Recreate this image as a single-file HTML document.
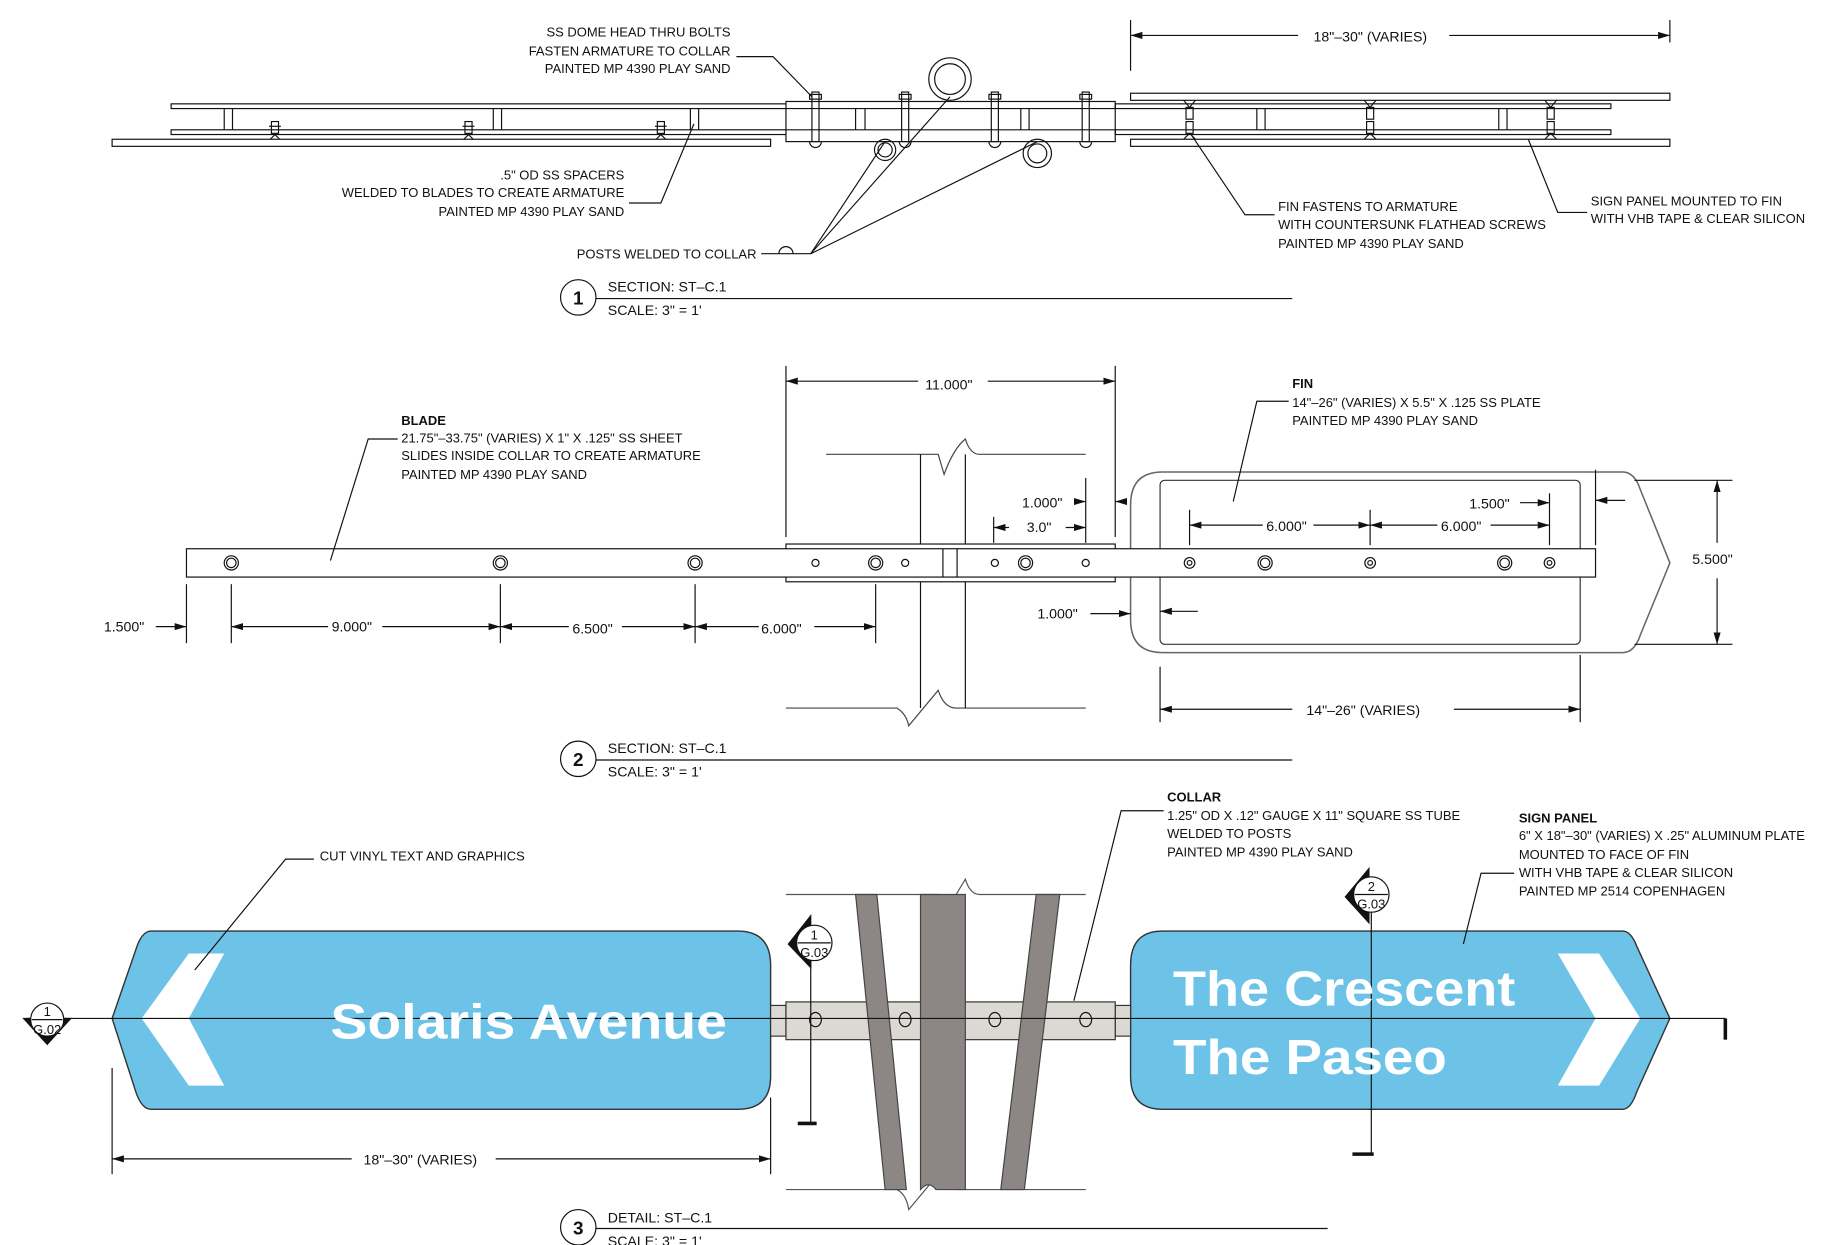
<!DOCTYPE html>
<html><head><meta charset="utf-8"><style>
html,body{margin:0;padding:0;background:#fff;}
svg{display:block;}
text{font-family:"Liberation Sans Narrow","Liberation Sans",sans-serif;font-size:11px;fill:#111;}
.b{font-weight:bold;}
.d{font-size:12px;}
.big{font-family:"Liberation Sans",sans-serif;font-weight:bold;fill:#fff;font-size:42px;}
.m{font-size:11px;}
.n{font-size:16px;font-weight:bold;}
</style></head><body>
<svg width="1841" height="1245" viewBox="0 0 1560 1055" preserveAspectRatio="none" xmlns="http://www.w3.org/2000/svg">
<defs>
<marker id="a" viewBox="0 0 10 6" refX="10" refY="3" markerWidth="10" markerHeight="6" orient="auto-start-reverse" markerUnits="userSpaceOnUse"><path d="M0,0 L10,3 L0,6 z" fill="#111"/></marker>
</defs>
<g stroke="#111" stroke-width="1" fill="none">
<!-- ===== SECTION 1 ===== -->
<rect x="95" y="118" width="558" height="6" fill="#fff"/>
<rect x="145" y="88" width="800" height="4"/>
<rect x="145" y="110" width="800" height="4"/>
<rect x="666" y="86" width="279" height="34" fill="#fff"/>
<line x1="666" y1="92" x2="945" y2="92"/><line x1="666" y1="110" x2="945" y2="110"/>
<rect x="958" y="79" width="457" height="6" fill="#fff"/>
<rect x="958" y="118" width="457" height="6" fill="#fff"/>
<rect x="945" y="88" width="420" height="4"/>
<rect x="945" y="110" width="420" height="4"/>
<g>
<line x1="190" y1="92" x2="190" y2="110"/><line x1="197" y1="92" x2="197" y2="110"/>
<line x1="418" y1="92" x2="418" y2="110"/><line x1="425" y1="92" x2="425" y2="110"/>
<line x1="585" y1="92" x2="585" y2="110"/><line x1="592" y1="92" x2="592" y2="110"/>
<line x1="725" y1="92" x2="725" y2="110"/><line x1="733" y1="92" x2="733" y2="110"/>
<line x1="865" y1="92" x2="865" y2="110"/><line x1="872" y1="92" x2="872" y2="110"/>
<line x1="1065" y1="92" x2="1065" y2="110"/><line x1="1072" y1="92" x2="1072" y2="110"/>
<line x1="1270" y1="92" x2="1270" y2="110"/><line x1="1277" y1="92" x2="1277" y2="110"/>
</g>
<g>
<rect x="688" y="78" width="6" height="42"/><rect x="686" y="80" width="10" height="4"/><path d="M686,120 a4,4 0 0 0 10,0"/>
<rect x="764" y="78" width="6" height="42"/><rect x="762" y="80" width="10" height="4"/><path d="M762,120 a4,4 0 0 0 10,0"/>
<rect x="840" y="78" width="6" height="42"/><rect x="838" y="80" width="10" height="4"/><path d="M838,120 a4,4 0 0 0 10,0"/>
<rect x="917" y="78" width="6" height="42"/><rect x="915" y="80" width="10" height="4"/><path d="M915,120 a4,4 0 0 0 10,0"/>
</g>
<g>
<rect x="230" y="103" width="6" height="10"/><line x1="228" y1="107" x2="238" y2="107"/><path d="M229,118 l4,-4 l4,4"/>
<rect x="394" y="103" width="6" height="10"/><line x1="392" y1="107" x2="402" y2="107"/><path d="M393,118 l4,-4 l4,4"/>
<rect x="557" y="103" width="6" height="10"/><line x1="555" y1="107" x2="565" y2="107"/><path d="M556,118 l4,-4 l4,4"/>
<rect x="1005" y="91" width="6" height="10"/><rect x="1005" y="103" width="6" height="10"/><path d="M1003,85 l5,6 l5,-6"/><path d="M1003,118 l5,-5 l5,5"/>
<rect x="1158" y="91" width="6" height="10"/><rect x="1158" y="103" width="6" height="10"/><path d="M1156,85 l5,6 l5,-6"/><path d="M1156,118 l5,-5 l5,5"/>
<rect x="1311" y="91" width="6" height="10"/><rect x="1311" y="103" width="6" height="10"/><path d="M1309,85 l5,6 l5,-6"/><path d="M1309,118 l5,-5 l5,5"/>
</g>
<circle cx="805" cy="67" r="18"/><circle cx="805" cy="67" r="13"/>
<circle cx="750" cy="127" r="9"/><circle cx="750" cy="127" r="6"/>
<circle cx="879" cy="130" r="12"/><circle cx="879" cy="130" r="8"/>
<polyline points="624,48 655,48 688,82"/>
<polyline points="533,172 560,172 588,105"/>
<polyline points="645,215 687,215 805,82"/>
<line x1="687" y1="215" x2="750" y2="120"/>
<line x1="687" y1="215" x2="879" y2="120"/>
<path d="M660,215 a6,6 0 0 1 12,0"/>
<polyline points="1080,182 1055,182 1010,115"/>
<polyline points="1345,180 1320,180 1295,118"/>
<line x1="958" y1="17" x2="958" y2="60"/><line x1="1415" y1="17" x2="1415" y2="36"/>
<line x1="958" y1="30" x2="1100" y2="30" marker-start="url(#a)"/>
<line x1="1228" y1="30" x2="1415" y2="30" marker-end="url(#a)"/>
<circle cx="490" cy="252" r="15"/>
<line x1="505" y1="253" x2="1095" y2="253"/>

<!-- ===== SECTION 2 ===== -->
<path d="M700,385 H795 L800,402 Q808,380 818,372 Q822,385 830,385 H920" stroke="#444"/>
<path d="M666,600 H760 Q768,605 770,615 L795,585 Q800,600 810,600 H920" stroke="#444"/>
<line x1="780" y1="385" x2="780" y2="600"/><line x1="818" y1="385" x2="818" y2="600"/>
<path d="M985,400 H1375 Q1385,400 1390,415 L1415,477 L1390,538 Q1385,553 1375,553 H985 Q958,553 958,525 V428 Q958,400 985,400 Z" stroke="#666" stroke-width="1.3" fill="#fff"/>
<rect x="983" y="407" width="356" height="139" rx="4" stroke="#333"/>
<rect x="666" y="461" width="279" height="32" fill="#fff"/>
<rect x="158" y="465" width="1194" height="24" fill="#fff"/>
<line x1="799" y1="465" x2="799" y2="489"/><line x1="811" y1="465" x2="811" y2="489"/>
<g>
<circle cx="196" cy="477" r="6"/><circle cx="196" cy="477" r="4"/>
<circle cx="424" cy="477" r="6"/><circle cx="424" cy="477" r="4"/>
<circle cx="589" cy="477" r="6"/><circle cx="589" cy="477" r="4"/>
<circle cx="742" cy="477" r="6"/><circle cx="742" cy="477" r="4"/>
<circle cx="869" cy="477" r="6"/><circle cx="869" cy="477" r="4"/>
<circle cx="1072" cy="477" r="6"/><circle cx="1072" cy="477" r="4"/>
<circle cx="1275" cy="477" r="6"/><circle cx="1275" cy="477" r="4"/>
<circle cx="691" cy="477" r="3"/><circle cx="767" cy="477" r="3"/><circle cx="843" cy="477" r="3"/><circle cx="920" cy="477" r="3"/>
<circle cx="1008" cy="477" r="4.5"/><circle cx="1008" cy="477" r="2"/>
<circle cx="1161" cy="477" r="4.5"/><circle cx="1161" cy="477" r="2"/>
<circle cx="1313" cy="477" r="4.5"/><circle cx="1313" cy="477" r="2"/>
</g>
<line x1="666" y1="310" x2="666" y2="455"/><line x1="945" y1="310" x2="945" y2="455"/>
<line x1="666" y1="323" x2="778" y2="323" marker-start="url(#a)"/>
<line x1="837" y1="323" x2="945" y2="323" marker-end="url(#a)"/>
<line x1="158" y1="495" x2="158" y2="545"/>
<line x1="196" y1="495" x2="196" y2="545"/><line x1="424" y1="495" x2="424" y2="545"/>
<line x1="589" y1="495" x2="589" y2="545"/><line x1="742" y1="495" x2="742" y2="545"/>
<line x1="132" y1="531" x2="158" y2="531" marker-end="url(#a)"/>
<line x1="196" y1="531" x2="278" y2="531" marker-start="url(#a)"/>
<line x1="324" y1="531" x2="424" y2="531" marker-end="url(#a)"/>
<line x1="424" y1="531" x2="482" y2="531" marker-start="url(#a)"/>
<line x1="527" y1="531" x2="589" y2="531" marker-end="url(#a)"/>
<line x1="589" y1="531" x2="643" y2="531" marker-start="url(#a)"/>
<line x1="690" y1="531" x2="742" y2="531" marker-end="url(#a)"/>
<line x1="910" y1="425" x2="920" y2="425" marker-end="url(#a)"/>
<line x1="945" y1="425" x2="952" y2="425" marker-start="url(#a)"/>
<line x1="920" y1="405" x2="920" y2="460"/>
<line x1="842" y1="438" x2="842" y2="460"/>
<line x1="842" y1="447" x2="855" y2="447" marker-start="url(#a)"/>
<line x1="903" y1="447" x2="920" y2="447" marker-end="url(#a)"/>
<line x1="924" y1="520" x2="958" y2="520" marker-end="url(#a)"/>
<line x1="983" y1="518" x2="1015" y2="518" marker-start="url(#a)"/>
<line x1="1008" y1="432" x2="1008" y2="462"/><line x1="1161" y1="432" x2="1161" y2="462"/><line x1="1313" y1="418" x2="1313" y2="462"/>
<line x1="1008" y1="445" x2="1070" y2="445" marker-start="url(#a)"/>
<line x1="1113" y1="445" x2="1161" y2="445" marker-end="url(#a)"/>
<line x1="1161" y1="445" x2="1218" y2="445" marker-start="url(#a)"/>
<line x1="1263" y1="445" x2="1313" y2="445" marker-end="url(#a)"/>
<line x1="1288" y1="426" x2="1313" y2="426" marker-end="url(#a)"/>
<line x1="1352" y1="398" x2="1352" y2="462"/>
<line x1="1352" y1="424" x2="1377" y2="424" marker-start="url(#a)"/>
<line x1="1385" y1="407" x2="1468" y2="407"/><line x1="1385" y1="546" x2="1468" y2="546"/>
<line x1="1455" y1="407" x2="1455" y2="460" marker-start="url(#a)"/>
<line x1="1455" y1="490" x2="1455" y2="546" marker-end="url(#a)"/>
<line x1="983" y1="565" x2="983" y2="612"/><line x1="1339" y1="555" x2="1339" y2="612"/>
<line x1="983" y1="601" x2="1095" y2="601" marker-start="url(#a)"/>
<line x1="1232" y1="601" x2="1339" y2="601" marker-end="url(#a)"/>
<polyline points="337,372 312,372 280,475"/>
<polyline points="1092,340 1065,340 1045,425"/>
<circle cx="490" cy="643" r="15"/>
<line x1="505" y1="644" x2="1095" y2="644"/>

<!-- ===== SECTION 3 ===== -->
<path d="M666,758 H795 Q800,765 800,775 L818,745 Q822,758 830,758 H920" stroke="#555"/>
<path d="M666,1008 H760 Q768,1012 770,1025 L795,995 Q800,1008 810,1008 H920" stroke="#555"/>
<path d="M128,789 H625 Q653,789 653,818 V912 Q653,940 625,940 H128 Q120,940 115,925 L95,863 L115,805 Q120,789 128,789 Z" fill="#6cc3e7" stroke="#333" stroke-width="1.2"/>
<polygon points="160,808 190,808 160,863 190,920 160,920 120,863" fill="#fff" stroke="none"/>
<path d="M985,789 H1375 Q1382,789 1387,802 L1415,863 L1387,925 Q1382,940 1375,940 H985 Q958,940 958,912 V818 Q958,789 985,789 Z" fill="#6cc3e7" stroke="#333" stroke-width="1.2"/>
<polygon points="1320,808 1355,808 1390,863 1355,920 1320,920 1352,863" fill="#fff" stroke="none"/>
<rect x="653" y="852" width="13" height="26" fill="#dcd9d5" stroke="#333"/>
<rect x="945" y="852" width="13" height="26" fill="#dcd9d5" stroke="#333"/>
<rect x="666" y="849" width="279" height="32" fill="#dcd9d5" stroke="#333"/>
<polygon points="725,758 743,758 768,1008 750,1008" fill="#8c8684" stroke="#444"/>
<path d="M780,758 H818 V1008 H793 Q787,1000 780,1008 Z" fill="#8c8684" stroke="#444"/>
<polygon points="878,758 898,758 868,1008 848,1008" fill="#8c8684" stroke="#444"/>
<ellipse cx="691" cy="864" rx="5" ry="6"/><ellipse cx="767" cy="864" rx="5" ry="6"/><ellipse cx="843" cy="864" rx="5" ry="6"/><ellipse cx="920" cy="864" rx="5" ry="6"/>
<line x1="22" y1="863" x2="1462" y2="863"/>
<line x1="1462" y1="863" x2="1462" y2="881" stroke-width="3"/>
<line x1="687" y1="800" x2="687" y2="952"/><line x1="676" y1="952" x2="692" y2="952" stroke-width="3"/>
<line x1="1162" y1="760" x2="1162" y2="978"/><line x1="1146" y1="978" x2="1164" y2="978" stroke-width="3"/>
<line x1="95" y1="905" x2="95" y2="995"/><line x1="653" y1="930" x2="653" y2="995"/>
<line x1="95" y1="982" x2="298" y2="982" marker-start="url(#a)"/>
<line x1="420" y1="982" x2="653" y2="982" marker-end="url(#a)"/>
<polyline points="266,728 242,728 165,822"/>
<polyline points="986,687 950,687 910,848"/>
<polyline points="1283,740 1255,740 1240,800"/>
<circle cx="490" cy="1040" r="15"/>
<line x1="505" y1="1041" x2="1125" y2="1041"/>
</g>
<g fill="#111" stroke="#111">
<path d="M20,863 L60,863 L40,885 Z"/>
<circle cx="40" cy="864" r="14" fill="#fff"/>
<line x1="27" y1="864" x2="53" y2="864"/>
<path d="M668,800 L687,776 L687,820 Z"/>
<circle cx="690" cy="799" r="15" fill="#fff"/>
<line x1="676" y1="799" x2="704" y2="799"/>
<path d="M1140,760 L1160,736 L1160,782 Z"/>
<circle cx="1162" cy="758" r="15" fill="#fff"/>
<line x1="1148" y1="758" x2="1176" y2="758"/>
</g>
<g class="m">
<text x="40" y="861" text-anchor="middle">1</text><text x="40" y="876" text-anchor="middle">G.02</text>
<text x="690" y="796" text-anchor="middle">1</text><text x="690" y="811" text-anchor="middle">G.03</text>
<text x="1162" y="755" text-anchor="middle">2</text><text x="1162" y="770" text-anchor="middle">G.03</text>
</g>
<g text-anchor="end">
<text x="619" y="31">SS DOME HEAD THRU BOLTS</text>
<text x="619" y="47">FASTEN ARMATURE TO COLLAR</text>
<text x="619" y="62">PAINTED MP 4390 PLAY SAND</text>
<text x="529" y="152">.5" OD SS SPACERS</text>
<text x="529" y="167">WELDED TO BLADES TO CREATE ARMATURE</text>
<text x="529" y="183">PAINTED MP 4390 PLAY SAND</text>
<text x="641" y="219">POSTS WELDED TO COLLAR</text>
</g>
<text x="1113" y="35" class="d">18"–30" (VARIES)</text>
<text x="1083" y="179">FIN FASTENS TO ARMATURE</text>
<text x="1083" y="194">WITH COUNTERSUNK FLATHEAD SCREWS</text>
<text x="1083" y="210">PAINTED MP 4390 PLAY SAND</text>
<text x="1348" y="174">SIGN PANEL MOUNTED TO FIN</text>
<text x="1348" y="189">WITH VHB TAPE &amp; CLEAR SILICON</text>
<text x="490" y="258" text-anchor="middle" class="n">1</text>
<text x="515" y="247" class="d">SECTION: ST–C.1</text>
<text x="515" y="267" class="d">SCALE: 3" = 1'</text>
<text x="784" y="330" class="d">11.000"</text>
<text x="340" y="360" class="b">BLADE</text>
<text x="340" y="375">21.75"–33.75" (VARIES) X 1" X .125" SS SHEET</text>
<text x="340" y="390">SLIDES INSIDE COLLAR TO CREATE ARMATURE</text>
<text x="340" y="406">PAINTED MP 4390 PLAY SAND</text>
<text x="1095" y="329" class="b">FIN</text>
<text x="1095" y="345">14"–26" (VARIES) X 5.5" X .125 SS PLATE</text>
<text x="1095" y="360">PAINTED MP 4390 PLAY SAND</text>
<text x="866" y="430" class="d">1.000"</text>
<text x="870" y="451" class="d">3.0"</text>
<text x="1245" y="431" class="d">1.500"</text>
<text x="1073" y="450" class="d">6.000"</text>
<text x="1221" y="450" class="d">6.000"</text>
<text x="1434" y="478" class="d">5.500"</text>
<text x="88" y="535" class="d">1.500"</text>
<text x="281" y="535" class="d">9.000"</text>
<text x="485" y="537" class="d">6.500"</text>
<text x="645" y="537" class="d">6.000"</text>
<text x="879" y="524" class="d">1.000"</text>
<text x="1107" y="606" class="d">14"–26" (VARIES)</text>
<text x="490" y="649" text-anchor="middle" class="n">2</text>
<text x="515" y="638" class="d">SECTION: ST–C.1</text>
<text x="515" y="658" class="d">SCALE: 3" = 1'</text>
<text x="271" y="729">CUT VINYL TEXT AND GRAPHICS</text>
<text x="989" y="679" class="b">COLLAR</text>
<text x="989" y="695">1.25" OD X .12" GAUGE X 11" SQUARE SS TUBE</text>
<text x="989" y="710">WELDED TO POSTS</text>
<text x="989" y="726">PAINTED MP 4390 PLAY SAND</text>
<text x="1287" y="697" class="b">SIGN PANEL</text>
<text x="1287" y="712">6" X 18"–30" (VARIES) X .25" ALUMINUM PLATE</text>
<text x="1287" y="728">MOUNTED TO FACE OF FIN</text>
<text x="1287" y="743">WITH VHB TAPE &amp; CLEAR SILICON</text>
<text x="1287" y="759">PAINTED MP 2514 COPENHAGEN</text>
<text x="280" y="880" class="big" textLength="336" lengthAdjust="spacingAndGlyphs">Solaris Avenue</text>
<text x="994" y="852" class="big" textLength="290" lengthAdjust="spacingAndGlyphs">The Crescent</text>
<text x="994" y="910" class="big" textLength="232" lengthAdjust="spacingAndGlyphs">The Paseo</text>
<text x="308" y="987" class="d">18"–30" (VARIES)</text>
<text x="490" y="1046" text-anchor="middle" class="n">3</text>
<text x="515" y="1036" class="d">DETAIL: ST–C.1</text>
<text x="515" y="1056" class="d">SCALE: 3" = 1'</text>
</svg>
</body></html>
